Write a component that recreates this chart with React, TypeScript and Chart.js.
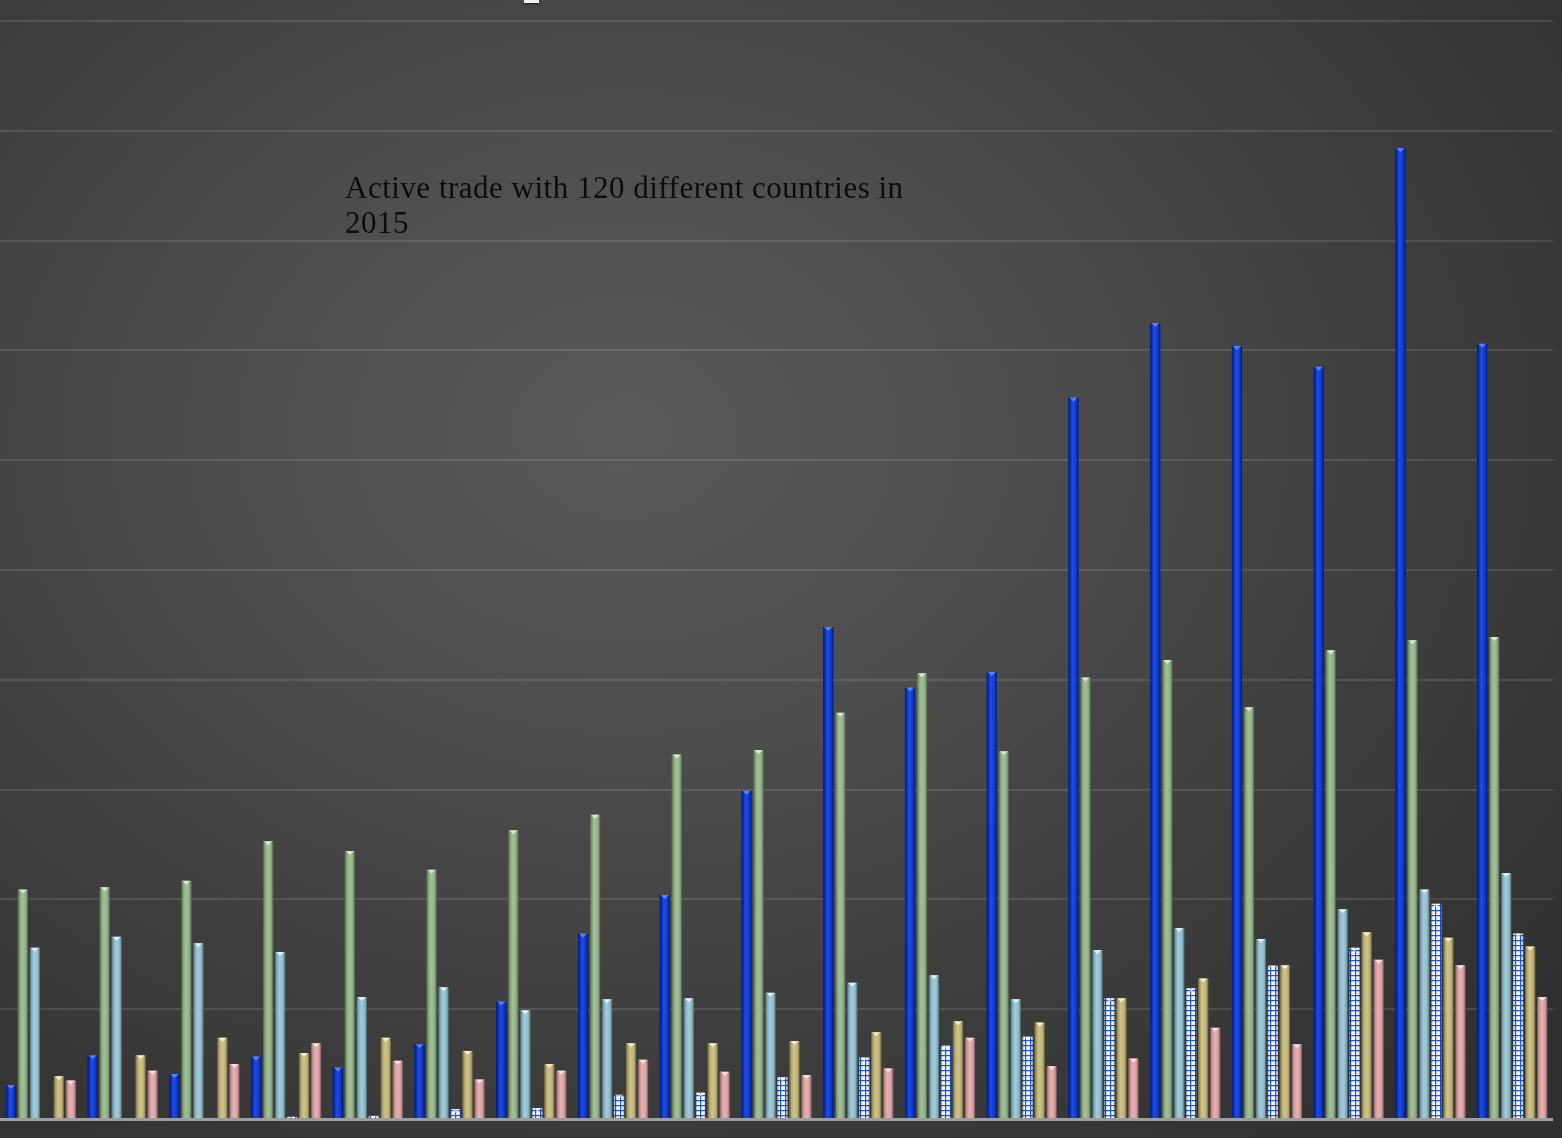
import React, { useEffect, useRef } from 'react';
import { Chart, registerables } from 'chart.js';

Chart.register(...registerables);

const categories = ['1997', '1998', '1999', '2000', '2001', '2002', '2003', '2004', '2005', '2006', '2007', '2008', '2009', '2010', '2011', '2012', '2013', '2014', '2015'];

const seriesBlue = [0.31, 0.58, 0.41, 0.57, 0.47, 0.68, 1.07, 1.69, 2.04, 2.99, 4.48, 3.93, 4.07, 6.57, 7.25, 7.04, 6.85, 8.84, 7.06];
const seriesGreen = [2.09, 2.11, 2.17, 2.53, 2.44, 2.27, 2.63, 2.77, 3.32, 3.36, 3.70, 4.06, 3.35, 4.02, 4.18, 3.75, 4.27, 4.36, 4.39];
const seriesLightBlue = [1.56, 1.66, 1.60, 1.52, 1.11, 1.20, 0.99, 1.09, 1.10, 1.15, 1.24, 1.31, 1.09, 1.54, 1.74, 1.64, 1.91, 2.09, 2.24];
const seriesChecked = [0, 0, 0.01, 0.02, 0.03, 0.09, 0.10, 0.22, 0.24, 0.38, 0.56, 0.67, 0.75, 1.10, 1.19, 1.40, 1.56, 1.96, 1.69];
const seriesTan = [0.39, 0.58, 0.74, 0.60, 0.74, 0.62, 0.50, 0.69, 0.69, 0.71, 0.79, 0.89, 0.88, 1.10, 1.28, 1.40, 1.70, 1.65, 1.57];
const seriesPink = [0.35, 0.44, 0.50, 0.69, 0.53, 0.36, 0.44, 0.54, 0.43, 0.40, 0.46, 0.74, 0.48, 0.55, 0.83, 0.68, 1.45, 1.40, 1.11];

const seriesNames = ['Series 1', 'Series 2', 'Series 3', 'Series 4', 'Series 5', 'Series 6'];
const yTicks = [0, 1, 2, 3, 4, 5, 6, 7, 8, 9, 10];

const baseColors = ['#0634d6', '#95b78a', '#93c3d3', 'checked', '#c6ba78', '#e3a4a6'];
const capColors = [
  'rgba(110,150,255,0.75)',
  'rgba(235,250,225,0.75)',
  'rgba(235,250,255,0.8)',
  'rgba(255,255,255,0.6)',
  'rgba(255,250,215,0.8)',
  'rgba(255,235,235,0.8)',
];

function makeCheckPattern(): CanvasPattern | string {
  const c = document.createElement('canvas');
  c.width = 5;
  c.height = 5;
  const g = c.getContext('2d');
  if (!g) return '#ffffff';
  g.fillStyle = '#f6f7fb';
  g.fillRect(0, 0, 5, 5);
  g.fillStyle = '#1b56e0';
  g.fillRect(0, 0, 5, 1);
  g.fillRect(0, 0, 1, 5);
  g.fillStyle = 'rgba(27,86,224,0.2)';
  g.fillRect(0, 1, 5, 1);
  g.fillRect(1, 0, 1, 5);
  const p = g.createPattern(c, 'repeat');
  return p || '#ffffff';
}

const shadePlugin = {
  id: 'shade3d',
  afterDatasetsDraw(chart: any) {
    const ctx: CanvasRenderingContext2D = chart.ctx;
    ctx.save();
    chart.data.datasets.forEach((_ds: any, di: number) => {
      const meta = chart.getDatasetMeta(di);
      meta.data.forEach((el: any) => {
        const { x, y, base, width } = el.getProps(['x', 'y', 'base', 'width'], true);
        const h = base - y;
        if (h <= 0.6) return;
        const l = x - width / 2;
        const g = ctx.createLinearGradient(l, 0, l + width, 0);
        if (di === 3) {
          g.addColorStop(0, 'rgba(0,0,0,0.25)');
          g.addColorStop(0.2, 'rgba(0,0,0,0.0)');
          g.addColorStop(0.8, 'rgba(0,0,0,0.0)');
          g.addColorStop(1, 'rgba(0,0,0,0.25)');
        } else {
          g.addColorStop(0, 'rgba(0,0,0,0.5)');
          g.addColorStop(0.18, 'rgba(0,0,0,0.12)');
          g.addColorStop(0.42, 'rgba(255,255,255,0.12)');
          g.addColorStop(0.6, 'rgba(255,255,255,0.06)');
          g.addColorStop(0.85, 'rgba(0,0,0,0.12)');
          g.addColorStop(1, 'rgba(0,0,0,0.5)');
        }
        ctx.fillStyle = g;
        ctx.fillRect(l, y, width, h);
        const capH = Math.min(4, h);
        ctx.beginPath();
        ctx.moveTo(l + 1, y);
        ctx.lineTo(l + width - 1, y);
        ctx.lineTo(x, y + capH);
        ctx.closePath();
        ctx.fillStyle = capColors[di];
        ctx.fill();
      });
    });
    const ys = chart.scales.y;
    const area = chart.chartArea;
    const y0 = ys.getPixelForValue(0);
    ctx.fillStyle = 'rgba(170,170,170,0.9)';
    ctx.fillRect(area.left, y0 - 1, area.right - area.left, 3);
    ctx.restore();
  },
};

export default function App() {
  const canvasRef = useRef<HTMLCanvasElement | null>(null);

  useEffect(() => {
    document.body.style.margin = '0';
    const canvas = canvasRef.current;
    if (!canvas) return;
    const pattern = makeCheckPattern();
    const seriesData = [seriesBlue, seriesGreen, seriesLightBlue, seriesChecked, seriesTan, seriesPink];
    const chart = new Chart(canvas, {
      type: 'bar',
      data: {
        labels: categories,
        datasets: seriesData.map((d, i) => ({
          label: seriesNames[i],
          data: d,
          backgroundColor: baseColors[i] === 'checked' ? pattern : baseColors[i],
          borderWidth: 0,
          categoryPercentage: 0.88,
          barPercentage: 0.85,
        })),
      },
      options: {
        animation: false,
        responsive: false,
        maintainAspectRatio: false,
        layout: { padding: { left: 0, right: 9, top: 21, bottom: 19 } },
        plugins: {
          legend: { display: false },
          tooltip: { enabled: false },
          title: { display: false },
        },
        scales: {
          x: {
            display: false,
          },
          y: {
            min: 0,
            max: 10,
            afterBuildTicks: (axis: any) => {
              axis.ticks = yTicks.map((v) => ({ value: v }));
            },
            ticks: { display: false },
            border: { display: false },
            grid: {
              drawTicks: false,
              lineWidth: 2,
              color: (c: any) => (c.tick && c.tick.value === 0 ? 'rgba(0,0,0,0)' : 'rgba(255,255,255,0.11)'),
            },
          },
        },
      },
      plugins: [shadePlugin],
    });
    return () => chart.destroy();
  }, []);

  return (
    <div
      style={{
        position: 'absolute',
        left: 0,
        top: 0,
        width: 1562,
        height: 1138,
        overflow: 'hidden',
        background:
          'radial-gradient(ellipse 75% 80% at 40% 38%, #5a5a5a 0%, #4f4f4f 30%, #404040 62%, #303030 100%)',
      }}
    >
      <canvas ref={canvasRef} width={1562} height={1138} style={{ position: 'absolute', left: 0, top: 0 }} />
      <div
        style={{
          position: 'absolute',
          left: 524,
          top: 0,
          width: 15,
          height: 3,
          background: '#f2f2f2',
          boxShadow: '0 1px 2px rgba(0,0,0,0.6)',
        }}
      />
      <div
        style={{
          position: 'absolute',
          left: 345,
          top: 170,
          fontFamily: '"Liberation Serif", "DejaVu Serif", serif',
          fontSize: 31,
          letterSpacing: '0.5px',
          lineHeight: '35px',
          color: '#0c0c0c',
          whiteSpace: 'nowrap',
        }}
      >
        <div>Active trade with 120 different countries in</div>
        <div>2015</div>
      </div>
    </div>
  );
}
